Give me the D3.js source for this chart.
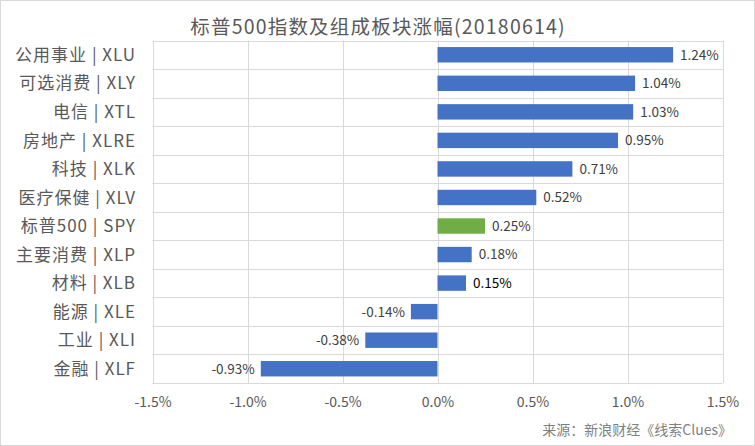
<!DOCTYPE html>
<html><head><meta charset="utf-8">
<script src="https://cdn.jsdelivr.net/npm/d3@7"></script>
<style>body{margin:0;background:#fff;}svg{display:block;font-family:"Noto Sans CJK SC","Noto Sans",sans-serif;}</style>
</head><body>
<svg id="c" width="755" height="446"></svg>
<script>
const categories = ["公用事业 | XLU","可选消费 | XLY","电信 | XTL","房地产 | XLRE","科技 | XLK","医疗保健 | XLV","标普500 | SPY","主要消费 | XLP","材料 | XLB","能源 | XLE","工业 | XLI","金融 | XLF"];
const values = [1.24,1.04,1.03,0.95,0.71,0.52,0.25,0.18,0.15,-0.14,-0.38,-0.93];
const highlight = "标普500 | SPY";
const tickValues = [-1.5,-1.0,-0.5,0,0.5,1.0,1.5];
const title = "标普500指数及组成板块涨幅(20180614)";
const source = "来源：新浪财经《线索Clues》";

const svg = d3.select("#c");
svg.append("rect").attr("x",0.5).attr("y",0.5).attr("width",754).attr("height",445).attr("fill","#fff").attr("stroke","#d9d9d9");
const L=152.5,R=722.5,T=40.5,B=383;
const x = d3.scaleLinear().domain([-1.5,1.5]).range([L,R]);
const y = d3.scaleBand().domain(categories).range([T,B]).paddingInner(0.46).paddingOuter(0.23);
const yb = d3.scaleBand().domain(categories).range([T,B]);

// grid
const g = svg.append("g");
g.selectAll("line.v").data(tickValues).join("line")
 .attr("x1",d=>Math.round(x(d))+0.5).attr("x2",d=>Math.round(x(d))+0.5).attr("y1",T).attr("y2",B)
 .attr("stroke","#d9d9d9");
const hs = categories.map(c=>yb(c)).concat([B]);
g.selectAll("line.h").data(hs).join("line")
 .attr("x1",L).attr("x2",R).attr("y1",d=>Math.round(d)+0.5).attr("y2",d=>Math.round(d)+0.5)
 .attr("stroke","#d9d9d9");

// bars
svg.append("g").selectAll("rect").data(values).join("rect")
 .attr("x",d=>x(Math.min(0,d))).attr("width",d=>Math.abs(x(d)-x(0)))
 .attr("y",(d,i)=>y(categories[i])).attr("height",y.bandwidth())
 .attr("fill",(d,i)=>categories[i]===highlight?"#70AD47":"#4472C4");

// data labels
svg.append("g").selectAll("text").data(values).join("text")
 .attr("x",d=>d>=0?x(d)+7:x(d)-6)
 .attr("y",(d,i)=>y(categories[i])+y.bandwidth()/2)
 .attr("dy","0.36em")
 .attr("text-anchor",d=>d>=0?"start":"end")
 .attr("font-size",13.5).attr("fill",(d,i)=>categories[i]==="材料 | XLB"?"#000":"#404040")
 .text(d=>d.toFixed(2)+"%");

// category labels
svg.append("g").selectAll("text").data(categories).join("text")
 .attr("x",136).attr("y",d=>yb(d)+yb.bandwidth()/2).attr("dy","0.36em")
 .attr("text-anchor","end").attr("font-size",17).attr("letter-spacing",1).attr("fill","#595959").text(d=>d);

// x axis
const ax = svg.append("g").attr("transform",`translate(0,${B})`)
 .call(d3.axisBottom(x).tickValues(tickValues).tickSize(0).tickPadding(14).tickFormat(d=>d.toFixed(1)+"%"));
ax.select(".domain").remove();
ax.selectAll("text").attr("font-size",14).attr("fill","#595959").attr("font-family",'"Noto Sans CJK SC","Noto Sans",sans-serif');

// title
svg.append("text").attr("x",378).attr("y",27).attr("dy","0.36em").attr("text-anchor","middle")
 .attr("font-size",19.5).attr("letter-spacing",1.2).attr("fill","#595959").text(title);
// source
svg.append("text").attr("x",732).attr("y",430).attr("dy","0.36em").attr("text-anchor","end")
 .attr("font-size",14).attr("fill","#7f7f7f").text(source);
</script>
</body></html>
